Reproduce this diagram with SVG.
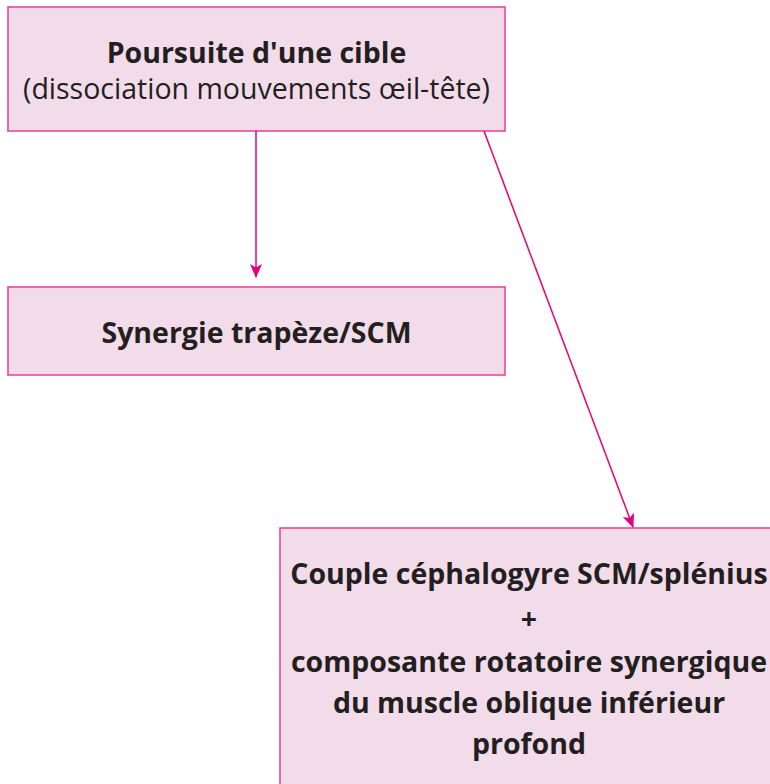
<svg xmlns="http://www.w3.org/2000/svg" width="770" height="784" viewBox="0 0 770 784">
<style>
.box{fill:#f2dcea;stroke:#ea3c96;stroke-width:1.5}
.t{font-family:"Open Sans","Liberation Sans",sans-serif;font-size:28.5px;fill:#231f20;text-anchor:middle}
.b{font-weight:bold}
.c{stroke:#e6007e;stroke-width:1.5;fill:none}
</style>
<defs>
<marker id="ah" markerWidth="14" markerHeight="14" refX="13" refY="7" orient="auto" markerUnits="userSpaceOnUse" viewBox="0 0 14 14">
<path d="M0,1 L14,7 L0,13 L3.5,7 Z" fill="#e6007e"/>
</marker>
</defs>
<rect width="770" height="784" fill="#ffffff"/>
<g id="n1">
<rect class="box" x="8" y="7" width="497" height="124"/>
<text class="t b" x="256.5" y="63">Poursuite d'une cible</text>
<text class="t" x="256.5" y="99">(dissociation mouvements œil-tête)</text>
</g>
<g id="n2">
<rect class="box" x="8" y="287" width="497" height="88"/>
<text class="t b" x="256.5" y="343">Synergie trapèze/SCM</text>
</g>
<g id="n3">
<rect class="box" x="280" y="528" width="500" height="270"/>
<text class="t b" x="529" y="584">Couple céphalogyre SCM/splénius</text>
<text class="t b" x="529" y="629">+</text>
<text class="t b" x="529" y="672">composante rotatoire synergique</text>
<text class="t b" x="529" y="713">du muscle oblique inférieur</text>
<text class="t b" x="529" y="754">profond</text>
</g>
<g id="connectors">
<line class="c" x1="256" y1="131" x2="256" y2="277" marker-end="url(#ah)"/>
<line class="c" x1="484" y1="131" x2="633" y2="527" marker-end="url(#ah)"/>
</g>
</svg>
